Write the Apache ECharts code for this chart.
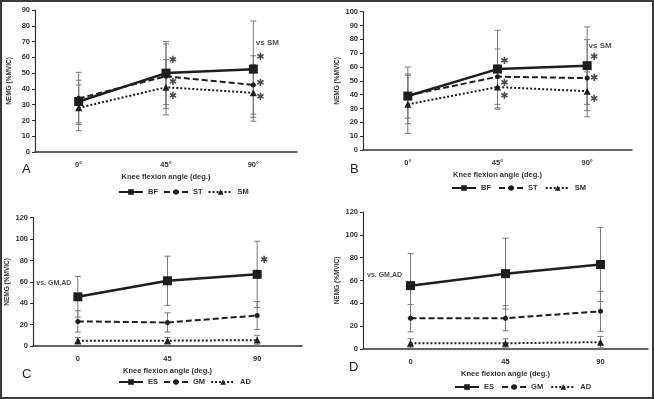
<!DOCTYPE html>
<html>
<head>
<meta charset="utf-8">
<script src="https://cdn.jsdelivr.net/npm/echarts@6/dist/echarts.min.js"></script>
<style>
  html, body { margin: 0; padding: 0; background: #fff; }
  #main { width: 654px; height: 399px; }
</style>
</head>
<body>
<div id="main"></div>
<script>
// categories
var catsAB = ['0°', '45°', '90°'];
var catsCD = ['0', '45', '90'];

// panel A: means and SDs (%MVIC)
var aBF = [32, 50, 52.5], aBFsd = [13.5, 20, 30.5];
var aST = [34, 48, 42.5], aSTsd = [16.5, 20.5, 18.5];
var aSM = [28, 41, 37.5], aSMsd = [14.5, 17.5, 18];
// panel B
var bBF = [39, 58.5, 61], bBFsd = [16, 28, 28];
var bST = [39.5, 53, 52], bSTsd = [20.5, 20, 28];
var bSM = [33, 45.5, 42.5], bSMsd = [21, 16, 14];
// panel C
var cES = [46, 61, 67], cESsd = [19, 23, 31];
var cGM = [23, 22, 28.5], cGMsd = [10, 9, 13];
var cAD = [5, 5, 5.5], cADsd = [3, 3, 4.5];
// panel D
var dES = [55.5, 66, 74], dESsd = [28, 31, 32.5];
var dGM = [27, 27, 33], dGMsd = [12, 11, 17.5];
var dAD = [5, 5, 6], dADsd = [4, 4, 5];

// significance stars [category index, value]
var starsA = [[1, 58.3], [1, 44], [1, 35], [2, 59.8], [2, 43.3], [2, 34.6]];
var starsB = [[1, 64.3], [1, 48.2], [1, 38.5], [2, 67], [2, 51.6], [2, 36.6]];
var starsC = [[2, 80]];

var FONT = 'Liberation Sans Narrow, Liberation Sans, sans-serif';
var INK = '#1e1e1e';

var chart = echarts.init(document.getElementById('main'));

function errBars(idx, means, sds) {
    var data = means.map(function (m, i) { return [i, m - sds[i], m + sds[i]]; });
    return {
        type: 'custom', xAxisIndex: idx, yAxisIndex: idx, z: 1, silent: true,
        data: data,
        renderItem: function (params, api) {
            var lo = api.coord([api.value(0), api.value(1)]);
            var hi = api.coord([api.value(0), api.value(2)]);
            var w = 3;
            var st = { stroke: '#7a7a7a', lineWidth: 1 };
            return { type: 'group', children: [
                { type: 'line', shape: { x1: lo[0], y1: lo[1], x2: hi[0], y2: hi[1] }, style: st },
                { type: 'line', shape: { x1: lo[0] - w, y1: lo[1], x2: lo[0] + w, y2: lo[1] }, style: st },
                { type: 'line', shape: { x1: hi[0] - w, y1: hi[1], x2: hi[0] + w, y2: hi[1] }, style: st }
            ] };
        }
    };
}

var lineKinds = [
    { type: 'solid', width: 2.5, symbol: 'rect', size: 9 },
    { type: [6, 3], width: 2, symbol: 'circle', size: 5 },
    { type: [2, 2], width: 2, symbol: 'triangle', size: 7 }
];

function lineSeries(idx, name, vals, k) {
    var kind = lineKinds[k];
    return {
        type: 'line', name: name, xAxisIndex: idx, yAxisIndex: idx, z: 3,
        data: vals, symbol: kind.symbol, symbolSize: kind.size, showAllSymbol: true,
        lineStyle: { color: INK, width: kind.width, type: kind.type },
        itemStyle: { color: INK },
        animation: false
    };
}

function stars(idx, pts) {
    return {
        type: 'scatter', xAxisIndex: idx, yAxisIndex: idx, z: 4, silent: true,
        data: pts, symbolSize: 0,
        label: { show: true, position: 'inside', offset: [7, 0], formatter: '✱',
                 fontSize: 10, color: INK, fontFamily: 'DejaVu Sans' }
    };
}

function note(idx, pt, text, dx, size) {
    return {
        type: 'scatter', xAxisIndex: idx, yAxisIndex: idx, z: 4, silent: true,
        data: [pt], symbolSize: 0,
        label: { show: true, position: 'inside', offset: [dx, 0], formatter: text,
                 fontSize: size, color: INK, fontFamily: FONT, fontWeight: 'bold' }
    };
}

var grids = [
    { left: 35, right: 357, top: 10, bottom: 247 },
    { left: 363, right: 22, top: 11.7, bottom: 249 },
    { left: 33, right: 352, top: 217.7, bottom: 53 },
    { left: 363, right: 6, top: 212, bottom: 50 }
];

var yMax = [90, 100, 120, 120];
var yInt = [10, 10, 20, 20];
var cats = [catsAB, catsAB, catsCD, catsCD];

var xAxes = cats.map(function (c, i) {
    return {
        type: 'category', gridIndex: i, data: c, boundaryGap: true,
        name: 'Knee flexion angle (deg.)', nameLocation: 'middle', nameGap: 21,
        nameTextStyle: { fontSize: 7.5, color: '#333', fontFamily: FONT, fontWeight: 'bold' },
        axisLine: { lineStyle: { color: '#333', width: 1.5 } },
        axisTick: { alignWithLabel: true, length: 3, lineStyle: { color: '#333' } },
        axisLabel: { fontSize: 7.5, color: '#333', fontFamily: FONT, fontWeight: 'bold', margin: 9 }
    };
});

var yAxes = yMax.map(function (m, i) {
    return {
        type: 'value', gridIndex: i, min: 0, max: m, interval: yInt[i],
        name: 'NEMG (%MVIC)', nameLocation: 'middle', nameGap: 22, nameRotate: 90,
        nameTextStyle: { fontSize: 6.5, color: '#333', fontFamily: FONT, fontWeight: 'bold' },
        axisLine: { show: true, lineStyle: { color: '#333', width: 1.2 } },
        axisTick: { show: true, length: 3, lineStyle: { color: '#333' } },
        splitLine: { show: false },
        axisLabel: { fontSize: 7.5, color: '#333', fontFamily: FONT, fontWeight: 'bold', margin: 5 }
    };
});

var legendBase = {
    itemWidth: 24, itemHeight: 7, itemGap: 5,
    textStyle: { fontSize: 7.5, color: '#333', fontFamily: FONT, fontWeight: 'bold' },
    padding: 0
};
function legend(names, left, top) {
    return Object.assign({}, legendBase, { data: names, left: left, top: top });
}

var series = [
    errBars(0, aBF, aBFsd), errBars(0, aST, aSTsd), errBars(0, aSM, aSMsd),
    lineSeries(0, 'BF', aBF, 0), lineSeries(0, 'ST', aST, 1), lineSeries(0, 'SM', aSM, 2),
    stars(0, starsA), note(0, [2, 69], 'vs SM', 14, 8),

    errBars(1, bBF, bBFsd), errBars(1, bST, bSTsd), errBars(1, bSM, bSMsd),
    lineSeries(1, 'BF ', bBF, 0), lineSeries(1, 'ST ', bST, 1), lineSeries(1, 'SM ', bSM, 2),
    stars(1, starsB), note(1, [2, 75], 'vs SM', 13, 8),

    errBars(2, cES, cESsd), errBars(2, cGM, cGMsd), errBars(2, cAD, cADsd),
    lineSeries(2, 'ES', cES, 0), lineSeries(2, 'GM', cGM, 1), lineSeries(2, 'AD', cAD, 2),
    stars(2, starsC), note(2, [0, 59], 'vs. GM,AD', -24, 7),

    errBars(3, dES, dESsd), errBars(3, dGM, dGMsd), errBars(3, dAD, dADsd),
    lineSeries(3, 'ES ', dES, 0), lineSeries(3, 'GM ', dGM, 1), lineSeries(3, 'AD ', dAD, 2),
    note(3, [0, 65], 'vs. GM,AD', -26, 7)
];

var option = {
    animation: false,
    backgroundColor: '#fff',
    grid: grids,
    xAxis: xAxes,
    yAxis: yAxes,
    legend: [
        legend(['BF', 'ST', 'SM'], 118, 188),
        legend(['BF ', 'ST ', 'SM '], 451, 184),
        legend(['ES', 'GM', 'AD'], 118, 378),
        legend(['ES ', 'GM ', 'AD '], 454, 383)
    ],
    graphic: [
        { type: 'rect', shape: { x: 1, y: 1, width: 652, height: 397 },
          style: { fill: 'none', stroke: '#3a3a3a', lineWidth: 2 } },
        { type: 'text', left: 22, top: 163, style: { text: 'A', fontSize: 13, fill: INK, fontFamily: FONT } },
        { type: 'text', left: 350, top: 163, style: { text: 'B', fontSize: 13, fill: INK, fontFamily: FONT } },
        { type: 'text', left: 22, top: 368, style: { text: 'C', fontSize: 13, fill: INK, fontFamily: FONT } },
        { type: 'text', left: 349, top: 361, style: { text: 'D', fontSize: 13, fill: INK, fontFamily: FONT } }
    ],
    series: series
};

chart.setOption(option);
</script>
</body>
</html>
